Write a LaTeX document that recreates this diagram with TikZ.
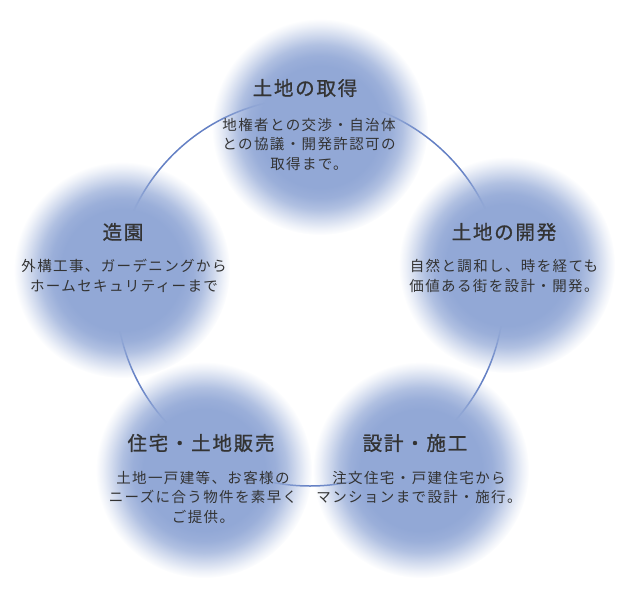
\documentclass[tikz,border=0pt]{standalone}
\usepackage{fontspec}
\setmainfont{Noto Sans CJK JP}
\usetikzlibrary{fadings}
\definecolor{blob}{RGB}{146,168,214}
\definecolor{ring}{RGB}{100,128,196}
\definecolor{ink}{RGB}{51,51,51}
\pgfdeclareradialshading{blobshade}{\pgfpointorigin}{color(0bp)=(pgftransparent!0); color(14bp)=(pgftransparent!0); color(16.5bp)=(pgftransparent!8); color(19bp)=(pgftransparent!28); color(21.5bp)=(pgftransparent!60); color(23.5bp)=(pgftransparent!85); color(25bp)=(pgftransparent!100); color(50bp)=(pgftransparent!100)}
\pgfdeclarefading{blobfade}{\pgfuseshading{blobshade}}
\begin{document}
\begin{tikzpicture}[x=1pt,y=-1pt,
    blobfill/.style={fill=blob,path fading=blobfade},
    title/.style={text=ink,font=\fontsize{19.5}{22}\selectfont\addfontfeatures{LetterSpace=9,FakeBold=0.9}},
    body/.style={text=ink,align=center,font=\fontsize{14.5}{19.5}\selectfont\addfontfeatures{LetterSpace=9.5}}]
    \useasboundingbox (0,0) rectangle (634,592);
    \draw[ring,line width=1.5pt] (310,292) circle (194pt);
    \coordinate (acq) at (320,127);
    \coordinate (dev) at (507,265);
    \coordinate (gdn) at (122,270);
    \coordinate (sale) at (204,470);
    \coordinate (build) at (421,470);
    \foreach \c in {acq,dev,gdn,sale,build}
      \fill[blobfill] (\c) circle (108pt);
    \node[title] (acqtitle) at (305,88) {土地の取得};
    \node[body] (acqbody) at (309,144) {地権者との交渉・自治体\\との協議・開発許認可の\\取得まで。};
    \node[title] (devtitle) at (504,232) {土地の開発};
    \node[body] (devbody) at (504,276) {自然と調和し、時を経ても\\価値ある街を設計・開発。};
    \node[title] (gdntitle) at (123,232) {造園};
    \node[body] (gdnbody) at (124,276) {外構工事、ガーデニングから\\ホームセキュリティーまで};
    \node[title] (saletitle) at (201,443) {住宅・土地販売};
    \node[body] (salebody) at (203,497) {土地一戸建等、お客様の\\ニーズに合う物件を素早く\\ご提供。};
    \node[title] (buildtitle) at (415,443) {設計・施工};
    \node[body] (buildbody) at (419,487.5) {注文住宅・戸建住宅から\\マンションまで設計・施行。};
\end{tikzpicture}
\end{document}
